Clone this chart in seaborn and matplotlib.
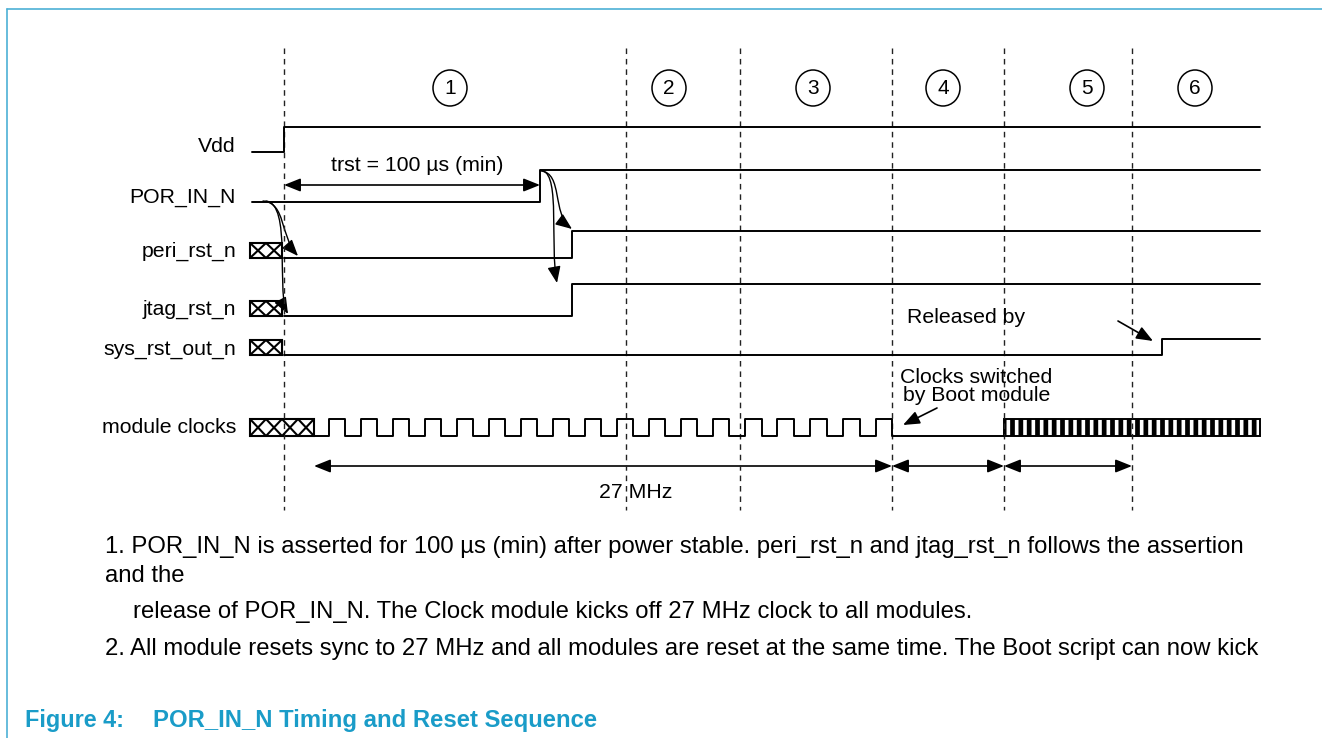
import numpy as np
import pandas as pd
import seaborn as sns
import matplotlib.pyplot as plt
from matplotlib.patches import Rectangle, Ellipse, FancyArrowPatch
from matplotlib.path import Path

sns.set_style('white')
plt.rcParams['font.family'] = ['Liberation Sans', 'DejaVu Sans']
plt.rcParams['text.color'] = 'black'
plt.rcParams['hatch.linewidth'] = 3.4

# time markers (dashed lines) and phase numbers
phase_times = [284, 626, 740, 892, 1004, 1132]
phase_labels = ['1', '2', '3', '4', '5', '6']
phase_label_x = [450, 669, 813, 943, 1087, 1195]

# signal rows
signal_names = ['Vdd', 'POR_IN_N', 'peri_rst_n', 'jtag_rst_n', 'sys_rst_out_n', 'module clocks']
row_low = [152, 202, 258, 316, 355, 436]
row_high = [127, 170, 231, 284, 339, 419]
label_base = [152, 203, 257, 315, 355, 433]

# edge times / levels for each reset signal
vdd_t = [252, 284, 1260]
vdd_lvl = [0, 1, 1]
por_t = [252, 540, 1260]
por_lvl = [0, 1, 1]
peri_t = [284, 572, 1260]
peri_lvl = [0, 1, 1]
jtag_t = [284, 572, 1260]
jtag_lvl = [0, 1, 1]
sys_t = [284, 1162, 1260]
sys_lvl = [0, 1, 1]

# 27 MHz clock edges
clk_rise = [329, 361, 393, 425, 457, 489, 521, 553, 585, 617, 649, 681, 713, 745, 777, 810, 843, 876]
clk_fall = [345, 377, 409, 441, 473, 505, 537, 569, 601, 633, 665, 697, 729, 762, 794, 827, 860, 892]
clk_start, clk_switch, fast_start, sig_end = 314, 892, 1004, 1260

# unknown-state boxes (row, right end, number of X cells)
xbox_rows = [2, 3, 4, 5]
xbox_end = [282, 282, 282, 314]
xbox_cells = [2, 2, 2, 4]

FS = 15.3

fig = plt.figure(figsize=(13.22, 7.38), dpi=100)
ax = fig.add_axes([0, 0, 1, 1])
ax.set_xlim(0, 1322)
ax.set_ylim(738, 0)
ax.axis('off')

# frame
ax.plot([7, 7], [9, 738], color='#4DB0D6', lw=1.2)
ax.plot([7, 1322], [9, 9], color='#4DB0D6', lw=1.2)

# dashed phase lines and circled numbers
for x in phase_times:
    ax.plot([x, x], [48, 510], color='#222222', lw=1.0, ls=(0, (4, 3.5)))
for x, lab in zip(phase_label_x, phase_labels):
    ax.add_patch(Ellipse((x, 88), 34, 36, fill=False, ec='black', lw=1.1))
    ax.text(x, 88, lab, ha='center', va='center', fontsize=15)

# signal labels
for name, yb in zip(signal_names, label_base):
    ax.text(236, yb, name, ha='right', va='baseline', fontsize=FS)


def level_to_y(row, lvl):
    return [row_low[row] if v == 0 else row_high[row] for v in lvl]


waves = [(vdd_t, vdd_lvl), (por_t, por_lvl), (peri_t, peri_lvl),
         (jtag_t, jtag_lvl), (sys_t, sys_lvl)]
for i, (t, lvl) in enumerate(waves):
    df = pd.DataFrame({'t': t, 'y': level_to_y(i, lvl)})
    sns.lineplot(data=df, x='t', y='y', drawstyle='steps-post', color='black',
                 lw=1.4, estimator=None, sort=False, ax=ax)

# clock waveform
ct = [clk_start]
cl = [0]
for r, f in zip(clk_rise, clk_fall):
    ct += [r, f]
    cl += [1, 0]
ct.append(fast_start)
cl.append(0)
cdf = pd.DataFrame({'t': ct, 'y': level_to_y(5, cl)})
sns.lineplot(data=cdf, x='t', y='y', drawstyle='steps-post', color='black',
             lw=1.4, estimator=None, sort=False, ax=ax)
# fast clock region
ax.add_patch(Rectangle((fast_start, row_high[5]), sig_end - fast_start,
                       row_low[5] - row_high[5], fill=False, ec='black',
                       lw=1.4, hatch='||'))

# unknown-state boxes
for r, xe, n in zip(xbox_rows, xbox_end, xbox_cells):
    x0 = 250
    y1 = row_low[r]
    y0 = row_high[r] if r == 5 else y1 - 15
    w = (xe - x0) / n
    ax.add_patch(Rectangle((x0, y0), xe - x0, y1 - y0, fill=False, ec='black', lw=1.5))
    for k in range(n):
        a = x0 + k * w
        ax.plot([a, a + w], [y0, y1], color='black', lw=1.5)
        ax.plot([a, a + w], [y1, y0], color='black', lw=1.5)


def arrow(p0, p1, style='-|>'):
    ax.add_patch(FancyArrowPatch(p0, p1, arrowstyle=style + ',head_length=1.0,head_width=0.4',
                                 mutation_scale=10, color='black', lw=1.2,
                                 shrinkA=0, shrinkB=0))


def curve(pts):
    path = Path(pts, [Path.MOVETO, Path.CURVE4, Path.CURVE4, Path.CURVE4])
    ax.add_patch(FancyArrowPatch(path=path, arrowstyle='-|>,head_length=1.0,head_width=0.4',
                                 mutation_scale=10, color='black', lw=1.0,
                                 shrinkA=0, shrinkB=0))


# timing arrows
arrow((284, 185), (540, 185), '<|-|>')
arrow((314, 466), (892, 466), '<|-|>')
arrow((892, 466), (1004, 466), '<|-|>')
arrow((1004, 466), (1132, 466), '<|-|>')
arrow((1118, 321), (1153, 341))
arrow((937, 408), (903, 425))

# causal curves
curve([(263, 201), (286, 203), (280, 236), (298, 256)])
curve([(266, 201), (292, 204), (276, 292), (288, 314)])
curve([(541, 171), (563, 173), (552, 214), (572, 229)])
curve([(543, 171), (560, 176), (550, 245), (557, 283)])

# annotations
ax.text(417, 171, 'trst = 100 \u00b5s (min)', ha='center', va='baseline', fontsize=FS)
ax.text(636, 498, '27 MHz', ha='center', va='baseline', fontsize=FS)
ax.text(907, 323, 'Released by', ha='left', va='baseline', fontsize=FS)
ax.text(900, 383, 'Clocks switched', ha='left', va='baseline', fontsize=FS)
ax.text(903, 401, 'by Boot module', ha='left', va='baseline', fontsize=FS)

# notes
ax.text(105, 553, '1. POR_IN_N is asserted for 100 \u00b5s (min) after power stable. '
        'peri_rst_n and jtag_rst_n follows the assertion', va='baseline', fontsize=17.2)
ax.text(105, 582, 'and the', va='baseline', fontsize=17.2)
ax.text(133, 618, 'release of POR_IN_N. The Clock module kicks off 27 MHz clock to all modules.',
        va='baseline', fontsize=17.2)
ax.text(105, 655, '2. All module resets sync to 27 MHz and all modules are reset at the same '
        'time. The Boot script can now kick', va='baseline', fontsize=17.2)
ax.text(25, 727, 'Figure 4:', va='baseline', fontsize=16.8, fontweight='bold', color='#1A9CC8')
ax.text(153, 727, 'POR_IN_N Timing and Reset Sequence', va='baseline',
        fontsize=17.2, fontweight='bold', color='#1A9CC8')

fig.savefig('out.png', dpi=100)
